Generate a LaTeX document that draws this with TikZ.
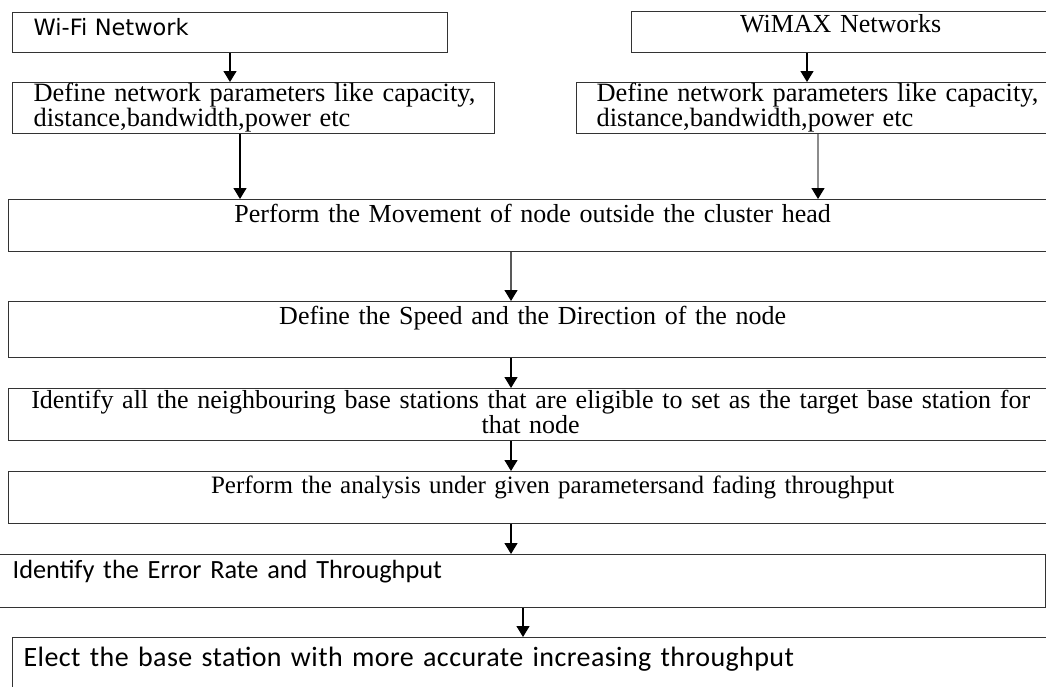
\documentclass[tikz,border=0pt]{standalone}
\usepackage{fontspec}
\setmainfont{Liberation Serif}
\newfontfamily\wifisans{DejaVu Sans}
\newfontfamily\calsans{Carlito}
\newfontfamily\calsanswide[LetterSpace=1.5]{Carlito}
\usetikzlibrary{arrows.meta}

\begin{document}
\begin{tikzpicture}[x=1pt, y=-1pt,
    box/.style={draw=black!80, line width=1.3pt, inner sep=0pt, anchor=north west},
    midbox/.style={box, align=center, font=\fontsize{26}{19}\selectfont},
    leftbox/.style={box, align=left, font=\fontsize{26.4}{18}\selectfont},
    arr/.style={line width=1.3pt, -{Triangle[width=13pt,length=11pt]}},
    arrgray/.style={line width=1.3pt, draw=black!45, -{Triangle[width=13pt,length=11pt,black]}},
    arrdim/.style={line width=1.3pt, draw=black!65, -{Triangle[width=13pt,length=11pt,black]}}]
  \useasboundingbox (0,0) rectangle (1046,686);
  \clip (0,0) rectangle (1046,686);

  % networks
  \node[box, align=left, inner xsep=21pt, text width=393pt, text height=23pt, text depth=17pt,
        font=\wifisans\fontsize{22.5}{24}\selectfont] (wifi) at (12,12) {Wi-Fi Network};
  \node[midbox, text width=418pt, text height=21pt, text depth=20pt] (wimax) at (631,11) {WiMAX Networks};
  \node[leftbox, inner xsep=21pt, text width=440pt, text height=19pt, text depth=32pt] (defl) at (12,82)
    {\mbox{Define network parameters like capacity,}\\ \mbox{distance,bandwidth,power etc}};
  \node[leftbox, inner xsep=20pt, text width=440pt, text height=19pt, text depth=32pt] (defr) at (576,82)
    {\mbox{Define network parameters like capacity,}\\ \mbox{distance,bandwidth,power etc}};

  % main steps
  \node[midbox, text width=1048pt, text height=23pt, text depth=29pt] (move) at (8,199)
    {Perform the Movement of node outside the cluster head};
  \node[midbox, text width=1048pt, text height=23pt, text depth=33pt] (speed) at (8,301)
    {Define the Speed and the Direction of the node};
  \node[midbox, text width=1044pt, text height=20pt, text depth=32pt] (ident) at (8,388)
    {Identify all the neighbouring base stations that are eligible to set as the target base station for\\ that node};
  \node[midbox, text width=1088pt, text height=22pt, text depth=30pt, font=\fontsize{25}{19}\selectfont] (anal) at (8,471)
    {Perform the analysis under given parametersand fading throughput};
  \node[box, align=left, inner xsep=14pt, text width=1019pt, text height=24pt, text depth=29pt,
        font=\calsans\fontsize{26.3}{24}\selectfont] (err) at (-2,554) {Identify the Error Rate and Throughput};
  \node[box, align=left, inner xsep=11pt, text width=1026pt, text height=29pt, text depth=34pt,
        font=\calsanswide\fontsize{28}{24}\selectfont] (elect) at (12,637)
    {Elect the base station with more accurate increasing throughput};

  % arrows
  \draw[arr] ([xshift=218pt]wifi.south west) coordinate (t1) -- (t1 |- defl.north);
  \draw[arr] ([xshift=176pt]wimax.south west) coordinate (t2) -- (t2 |- defr.north);
  \draw[arr] ([xshift=228pt]defl.south west) coordinate (t3) -- (t3 |- move.north);
  \draw[arrgray] ([xshift=242pt]defr.south west) coordinate (t4) -- (t4 |- move.north);
  \draw[arrdim] ([xshift=503pt]move.south west) coordinate (t5) -- (t5 |- speed.north);
  \draw[arr] (t5 |- speed.south) -- (t5 |- ident.north);
  \draw[arr] (t5 |- ident.south) -- (t5 |- anal.north);
  \draw[arr] (t5 |- anal.south) -- (t5 |- err.north);
  \draw[arr] ([xshift=525pt]err.south west) coordinate (t6) -- (t6 |- elect.north);
\end{tikzpicture}
\end{document}
